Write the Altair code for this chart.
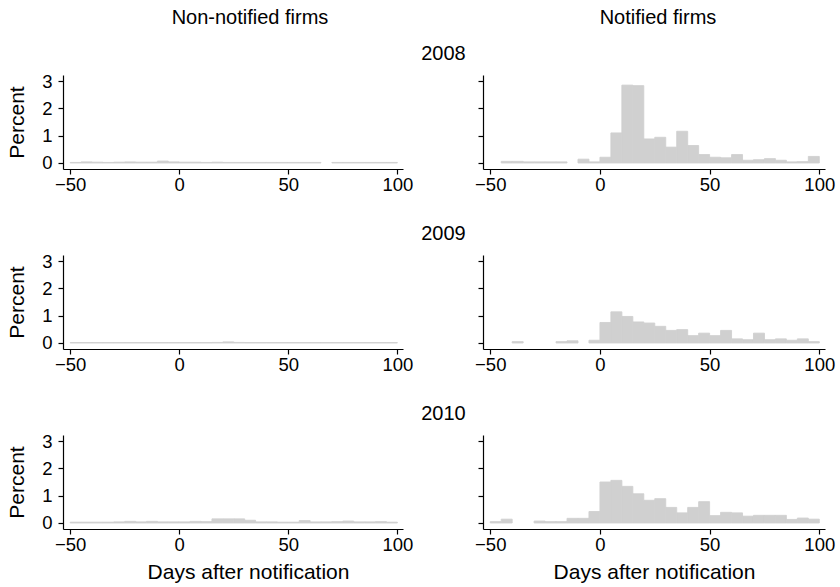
import altair as alt
import pandas as pd

# ---- data -------------------------------------------------------------
bin_starts = list(range(-50, 100, 5))   # 30 bins of 5 days
bin_width = 5
years = ["2008", "2009", "2010"]
groups = ["Non-notified firms", "Notified firms"]

nonnotified_2008 = [0.02, 0.04, 0.03, 0.02, 0.03, 0.04, 0.03, 0.03, 0.07, 0.04,
                    0.03, 0.03, 0.02, 0.03, 0.02, 0.02, 0.02, 0.02, 0.02, 0.02,
                    0.02, 0.02, 0.02, 0.00, 0.02, 0.02, 0.02, 0.02, 0.02, 0.02]
nonnotified_2009 = [0.015, 0.015, 0.015, 0.015, 0.015, 0.015, 0.015, 0.015, 0.015, 0.015,
                    0.015, 0.015, 0.015, 0.02, 0.04, 0.02, 0.015, 0.015, 0.015, 0.015,
                    0.015, 0.015, 0.015, 0.015, 0.015, 0.015, 0.015, 0.015, 0.015, 0.015]
nonnotified_2010 = [0.03, 0.03, 0.03, 0.03, 0.04, 0.06, 0.04, 0.06, 0.04, 0.04,
                    0.04, 0.06, 0.05, 0.15, 0.15, 0.15, 0.10, 0.04, 0.04, 0.03,
                    0.03, 0.09, 0.04, 0.04, 0.05, 0.07, 0.04, 0.04, 0.05, 0.03]
notified_2008 = [0.00, 0.06, 0.06, 0.04, 0.04, 0.04, 0.04, 0.00, 0.14, 0.04,
                 0.21, 1.10, 2.85, 2.83, 0.88, 0.94, 0.58, 1.16, 0.64, 0.31,
                 0.21, 0.19, 0.31, 0.10, 0.12, 0.16, 0.10, 0.04, 0.05, 0.24]
notified_2009 = [0.00, 0.00, 0.05, 0.00, 0.00, 0.00, 0.05, 0.08, 0.00, 0.10,
                 0.75, 1.14, 0.97, 0.77, 0.73, 0.61, 0.46, 0.49, 0.27, 0.36,
                 0.27, 0.46, 0.15, 0.12, 0.36, 0.12, 0.15, 0.10, 0.15, 0.05]
notified_2010 = [0.05, 0.14, 0.00, 0.00, 0.07, 0.05, 0.05, 0.17, 0.17, 0.42,
                 1.50, 1.56, 1.34, 1.07, 0.83, 0.89, 0.57, 0.37, 0.57, 0.78,
                 0.27, 0.39, 0.37, 0.25, 0.28, 0.28, 0.28, 0.13, 0.18, 0.14]

x_ticks = [-50, 0, 50, 100]
y_ticks = [0, 1, 2, 3]

series = {
    ("2008", groups[0]): nonnotified_2008,
    ("2009", groups[0]): nonnotified_2009,
    ("2010", groups[0]): nonnotified_2010,
    ("2008", groups[1]): notified_2008,
    ("2009", groups[1]): notified_2009,
    ("2010", groups[1]): notified_2010,
}
records = []
for (yr, grp), vals in series.items():
    for s, v in zip(bin_starts, vals):
        if v > 0:
            records.append({"year": yr, "group": grp, "start": s,
                            "end": s + bin_width, "pct": v})
df = pd.DataFrame(records)

# ---- style ------------------------------------------------------------
FONT = "Liberation Sans"
BAR = "#d0d0d0"
XDOM = [-53.3, 102.6]
YDOM = [-0.22, 3.22]
H = 94


def panel(row, year, group, left):
    last = row == len(years) - 1
    xaxis = alt.Axis(values=x_ticks, title="Days after notification" if last else None,
                     titleX=185 if left else 171)
    if left:
        yaxis = alt.Axis(values=y_ticks, labels=True, title="Percent")
    else:
        # year label sits above the row, centred over the figure
        yaxis = alt.Axis(values=y_ticks, labels=False, title=year, titleAngle=0,
                         titleAlign="center", titleBaseline="middle",
                         titleX=-40, titleY=-22, titleFontSize=20)
    ch = (alt.Chart(df)
          .transform_filter((alt.datum.year == year) & (alt.datum.group == group))
          .mark_rect(color=BAR, stroke=BAR, strokeWidth=0.9)
          .encode(
              x=alt.X("start:Q", scale=alt.Scale(domain=XDOM, nice=False, zero=False), axis=xaxis),
              x2="end:Q",
              y=alt.Y("pct:Q", scale=alt.Scale(domain=YDOM, nice=False, zero=False), axis=yaxis),
              y2=alt.datum(0),
          ))
    props = dict(width=340 if left else 342, height=H)
    if row == 0:
        props["title"] = alt.TitleParams(group, anchor="middle", frame="group",
                                         dx=17 if left else 4,
                                         offset=44 if left else 15)
    return ch.properties(**props)


cells = []
for r, yr in enumerate(years):
    cells.append(panel(r, yr, groups[0], True))
    cells.append(panel(r, yr, groups[1], False))

chart = (alt.concat(*cells, columns=2, spacing={"row": 86, "column": 80}, bounds="flush")
         .properties(padding={"left": 6, "top": 8, "right": 4, "bottom": 6})
         .configure_view(stroke=None)
         .configure_axis(grid=False, domainColor="#000000", tickColor="#000000",
                         labelColor="#000000", titleColor="#000000",
                         domainWidth=1.2, tickWidth=1.2, tickSize=5,
                         labelFont=FONT, titleFont=FONT, labelFontSize=18.5,
                         titleFontSize=21, titleFontWeight="normal")
         .configure_axisX(labelPadding=1, titlePadding=8)
         .configure_axisY(labelPadding=6, titlePadding=14)
         .configure_title(font=FONT, fontSize=20, fontWeight="normal", color="#000000"))

chart.save("out.html", embed_options={"renderer": "svg", "actions": False})
